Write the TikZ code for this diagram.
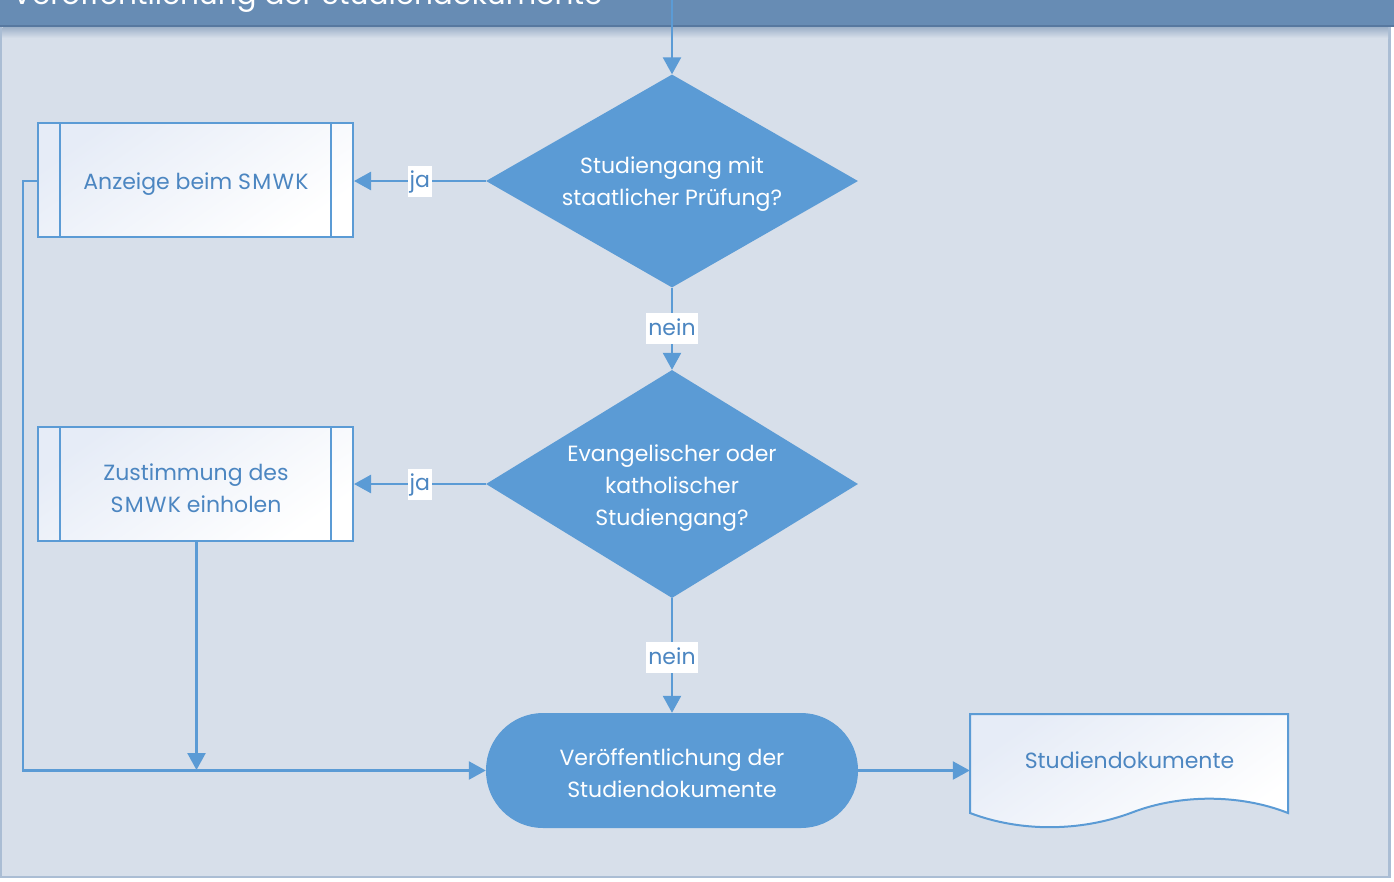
\documentclass[tikz,border=0pt]{standalone}
\usepackage{fontspec}
\setmainfont{Poppins}
\usetikzlibrary{arrows.meta,shapes.geometric}

\definecolor{panel}{HTML}{D7DFEA}
\definecolor{frame}{HTML}{AABDD4}
\definecolor{head}{HTML}{678CB4}
\definecolor{headline}{HTML}{57789F}
\definecolor{flow}{HTML}{5B9BD5}
\definecolor{boxtext}{HTML}{4C86C1}
\definecolor{boxshade}{HTML}{E6ECF7}

\newcommand{\widecaps}[1]{{\addfontfeatures{LetterSpace=6}#1}}

\tikzset{
  bodyfont/.style={font=\fontsize{22}{32}\selectfont},
  decision/.style={diamond, fill=flow, draw=none, inner sep=0pt,
    minimum width=372pt, minimum height=213pt},
  whitetext/.style={bodyfont, text=white, align=center, inner sep=0pt},
  bluetext/.style={bodyfont, text=boxtext, align=center, inner sep=0pt},
  terminal/.style={rectangle, rounded corners=57pt, fill=flow,
    minimum width=372pt, minimum height=115pt, inner sep=0pt},
  subproc/.style={rectangle, draw=flow, line width=2pt,
    top color=boxshade, bottom color=white, shading angle=35,
    minimum width=315pt, minimum height=114pt, inner sep=0pt},
  sideline/.style={draw=flow, line width=2pt},
  flowline/.style={draw=flow, line width=2.5pt},
  arrow/.style={flowline, -{Triangle[length=17pt,width=18pt]}},
  lbl/.style={fill=white, text=boxtext, inner xsep=2pt, inner ysep=0pt,
    font=\fontsize{22}{24}\selectfont, text height=22pt, text depth=9pt},
}

\begin{document}
\begin{tikzpicture}[x=1pt, y=-1pt]
  \useasboundingbox (0,0) rectangle (1394,881);

  % page and panel
  \fill[white] (0,0) rectangle (1394,881);
  \fill[panel] (0,0) rectangle (1391,878);
  \draw[frame, line width=2.5pt] (1,27) -- (1,877) -- (1389.5,877) -- (1389.5,27);

  % swimlane header
  \fill[head] (0,0) rectangle (1394,26);
  \shade[top color=headline!45!panel, bottom color=panel] (2.5,27) rectangle (1388,38);
  \draw[headline, line width=2pt] (0,26) -- (1394,26);
  \node[anchor=base west, text=white, inner sep=0pt,
        font=\fontsize{29.5}{36}\selectfont] (title) at (12,4)
        {Veröffentlichung der Studiendokumente};

  % decisions
  \node[decision] (d1) at (672,181) {};
  \node[whitetext] (d1t) at (672,184) {Studiengang mit\\staatlicher Prüfung?};
  \node[decision, minimum height=228pt] (d2) at (672,484) {};
  \node[whitetext] (d2t) at (672,488) {Evangelischer oder\\katholischer\\Studiengang?};

  % sub-processes
  \node[subproc] (b1) at (195.5,180) {};
  \node[bluetext] (b1t) at (196,184) {Anzeige beim \widecaps{SMWK}};
  \node[subproc] (b2) at (195.5,484) {};
  \node[bluetext] (b2t) at (196,488) {Zustimmung des\\\widecaps{SMWK} einholen};
  \foreach \b in {b1,b2} {
    \draw[sideline] ([xshift=23pt]\b.north west) -- ([xshift=23pt]\b.south west);
    \draw[sideline] ([xshift=-23pt]\b.north east) -- ([xshift=-23pt]\b.south east);
  }

  % terminal
  \node[terminal] (t) at (672,770.5) {};
  \node[whitetext] (tt) at (672,773) {Veröffentlichung der\\Studiendokumente};

  % document
  \node[minimum width=318pt, minimum height=113pt, inner sep=0pt] (doc) at (1129,770.5) {};
  \path[draw=flow, line width=2pt, top color=boxshade, bottom color=white, shading angle=35]
    (970,714) -- (1288,714) -- (1288,813)
    .. controls (1240,794) and (1180,794) .. (1132,812.5)
    .. controls (1080,832) and (1020,832) .. (970,813) -- cycle;
  \node[bluetext] (doct) at (1129.5,760) {Studiendokumente};

  % connectors
  \coordinate (entry) at (672,0);
  \draw[arrow] (entry) -- (d1.north);
  \draw[arrow] (d1.west) -- node[lbl] {ja} (b1.east |- d1.west);
  \draw[arrow] (d1.south) -- node[lbl, pos=0.5] {nein} (d2.north);
  \draw[arrow] (d2.west) -- node[lbl] {ja} (b2.east |- d2.west);
  \draw[arrow] (d2.south) -- node[lbl, pos=0.52] {nein} (t.north);

  \coordinate (joint) at (196.5,770);
  \draw[arrow] (b1.west |- d1.west) -- ++(-14,0) |- (t.west);
  \draw[arrow] (b2.south -| joint) -- (joint);
  \draw[arrow] (t.east) -- (t.east -| doc.west);
\end{tikzpicture}
\end{document}
